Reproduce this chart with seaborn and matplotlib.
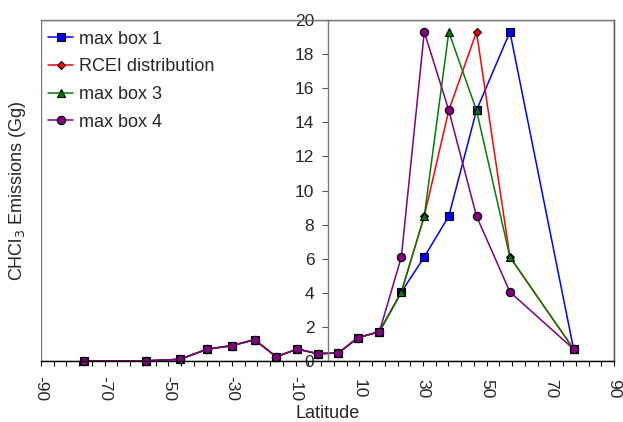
import numpy as np
import pandas as pd
import seaborn as sns
import matplotlib.pyplot as plt
from matplotlib.patches import Rectangle

# latitude of each box centre and CHCl3 emissions (Gg) for each distribution
latitude = [-76.6, -56.9, -46.4, -37.7, -30.1, -22.9, -16.1, -9.5, -3.0,
            3.4, 9.6, 16.3, 23.2, 30.4, 38.1, 46.8, 57.3, 77.3]
max_box1 = [0.01, 0.01, 0.1, 0.7, 0.9, 1.25, 0.25, 0.7, 0.43,
            0.47, 1.37, 1.72, 4.05, 6.1, 8.5, 14.7, 19.3, 0.7]
rcei = [0.01, 0.01, 0.1, 0.7, 0.9, 1.25, 0.25, 0.7, 0.43,
        0.47, 1.37, 1.72, 4.05, 8.5, 14.7, 19.3, 6.1, 0.7]
max_box3 = [0.01, 0.01, 0.1, 0.7, 0.9, 1.25, 0.25, 0.7, 0.43,
            0.47, 1.37, 1.72, 4.05, 8.5, 19.3, 14.7, 6.1, 0.7]
max_box4 = [0.01, 0.01, 0.1, 0.7, 0.9, 1.25, 0.25, 0.7, 0.43,
            0.47, 1.37, 1.72, 6.1, 19.3, 14.7, 8.5, 4.05, 0.7]

names = ['max box 1', 'RCEI distribution', 'max box 3', 'max box 4']
colors = ['#0000FF', '#FF0000', '#008000', '#800080']
markers = ['s', 'D', '^', 'o']
msizes = [5.5, 4, 6, 6]

xticks = list(range(-90, 91, 20))
yticks = list(range(0, 21, 2))

df = pd.DataFrame({'Latitude': latitude, names[0]: max_box1, names[1]: rcei,
                   names[2]: max_box3, names[3]: max_box4})

sns.set_style('white')
plt.rcParams['font.family'] = ['Liberation Sans', 'DejaVu Sans']
plt.rcParams['axes.unicode_minus'] = False

fig = plt.figure(figsize=(6.23, 4.22), dpi=100)
ax = fig.add_axes([0.0658, 0.1445, 0.9198, 0.8081])

for name, c, m, ms in zip(names, colors, markers, msizes):
    sns.lineplot(data=df, x='Latitude', y=name, color=c, marker=m, markersize=ms,
                 markeredgecolor='black', markeredgewidth=0.8, linewidth=1.1,
                 label=name, sort=False, ax=ax, clip_on=False)

ax.set_xlim(-90, 90)
ax.set_ylim(0, 20)

# y axis sits at latitude 0, outer box kept as a frame
ax.spines['left'].set_position(('data', 0))
ax.spines['left'].set_color('#777777')
ax.spines['top'].set_color('#777777')
ax.spines['right'].set_color('#555555')
ax.spines['bottom'].set_color('black')
for s in ax.spines.values():
    s.set_linewidth(1.0)
ax.add_patch(Rectangle((0, 0), 1, 1, transform=ax.transAxes, fill=False,
                       edgecolor='#777777', linewidth=1.0, zorder=0))

ax.set_yticks(yticks)
ax.set_yticklabels([str(v) for v in yticks])
ax.tick_params(axis='y', direction='out', length=4.5, width=0.8, color='#555555',
               pad=5.0, labelsize=12.5, left=True)

ax.set_xticks(np.arange(-90, 91, 4), minor=True)
ax.set_xticks(xticks)
ax.set_xticklabels([str(v) for v in xticks])
ax.tick_params(axis='x', which='both', direction='out', length=3.5, width=0.8,
               color='black', bottom=True)
ax.tick_params(axis='x', which='major', pad=16.5, labelsize=12.5)
plt.setp(ax.get_xticklabels(), rotation=270, va='center', ha='center')

ax.set_xlabel('Latitude', fontsize=13)
ax.xaxis.set_label_coords(0.5, -0.13)
ax.set_ylabel('CHCl$_3$ Emissions (Gg)', fontsize=13)
ax.yaxis.set_label_coords(-0.022, 0.5)

ax.legend(loc='upper left', bbox_to_anchor=(0.0, 0.99), frameon=False,
          fontsize=13, handlelength=1.4, handletextpad=0.3, labelspacing=0.59,
          borderaxespad=0.0)

fig.savefig('out.png', dpi=100)
